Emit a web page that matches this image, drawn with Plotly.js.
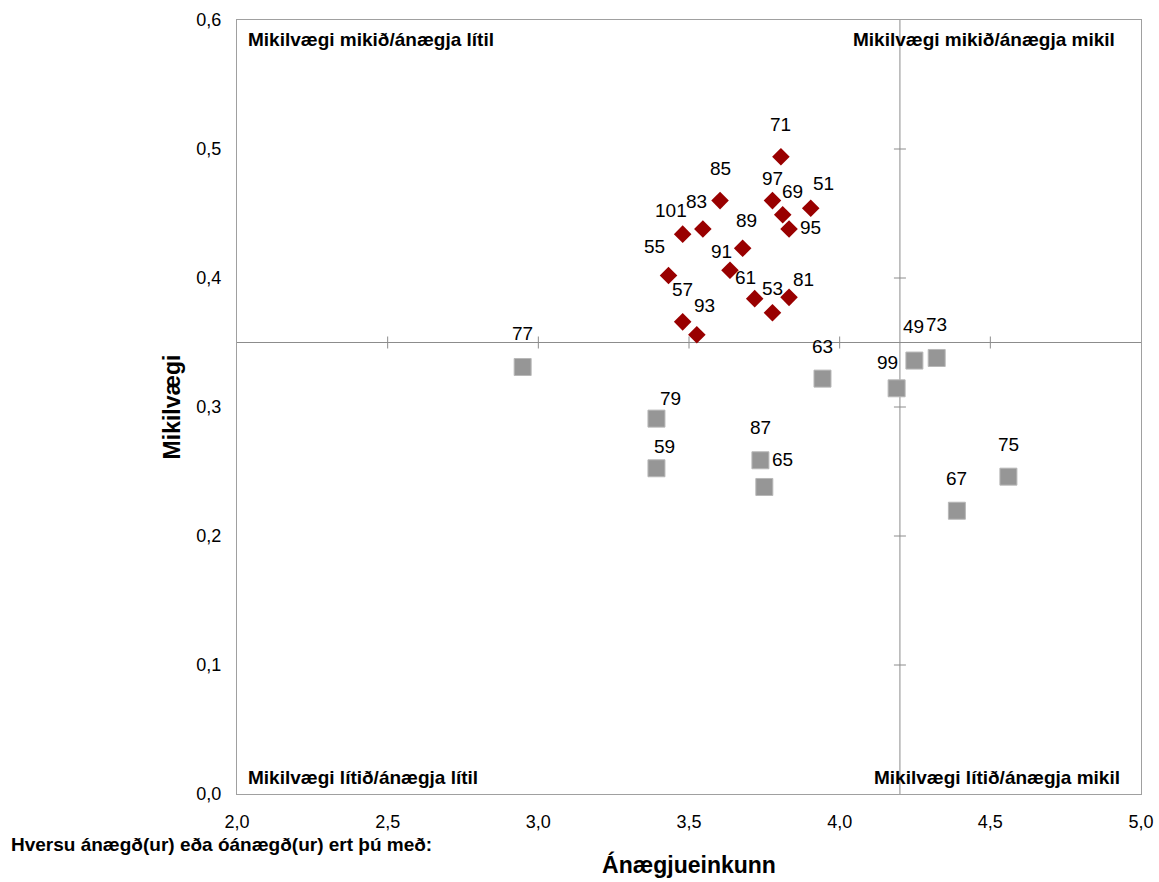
<!DOCTYPE html>
<html>
<head>
<meta charset="utf-8">
<script src="https://cdn.plot.ly/plotly-3.0.1.min.js"></script>
<style>
  html, body { margin: 0; padding: 0; background: #fff; }
  #chart { width: 1159px; height: 882px; }
</style>
</head>
<body>
<div id="chart"></div>
<script>
// ---- data ----
const redLabels = ['71','85','97','69','51','95','101','83','89','91','55','61','81','53','57','93'];
const redX = [3.805,3.603,3.777,3.811,3.904,3.832,3.479,3.546,3.678,3.636,3.432,3.718,3.832,3.777,3.479,3.526];
const redY = [0.494,0.460,0.460,0.449,0.454,0.438,0.434,0.438,0.423,0.406,0.402,0.384,0.385,0.373,0.366,0.356];

const grayLabels = ['77','79','59','87','65','63','49','73','99','67','75'];
const grayX = [2.948,3.392,3.392,3.737,3.750,3.943,4.248,4.322,4.189,4.389,4.560];
const grayY = [0.331,0.291,0.2525,0.2587,0.238,0.322,0.336,0.338,0.3145,0.2196,0.246];

const xTickVals = [2.0,2.5,3.0,3.5,4.0,4.5,5.0];
const yTickVals = [0.0,0.1,0.2,0.3,0.4,0.5,0.6];
const crossX = 4.2;   // satisfaction cross line
const crossY = 0.35;  // importance cross line

const quadrantTexts = ['Mikilvægi mikið/ánægja lítil','Mikilvægi mikið/ánægja mikil',
                       'Mikilvægi lítið/ánægja lítil','Mikilvægi lítið/ánægja mikil'];
const xTitle = 'Ánægjueinkunn';
const yTitle = 'Mikilvægi';
const footText = 'Hversu ánægð(ur) eða óánægð(ur) ert þú með:';

// ---- label offsets (pixels, style only) ----
const redDx = [0,0,0,10,13,21,-12,-6,4,-8,-14,-9,14,0,0,8];
const redDy = [-32,-32,-22,-23,-25,-1,-24,-27,-28,-19,-29,-21,-18,-24,-32,-29];
const grayDx = [0,14,8,0,18,0,-1,0,-9,0,0];
const grayDy = [-34,-20,-22,-33,-27,-32,-34,-33,-26,-32,-32];

const sans = '"Liberation Sans", Arial, sans-serif';
const labelFont = {family: sans, size: 19, color: '#000'};
const tickFont = {family: sans, size: 18, color: '#000'};
const boldFont = {family: sans, size: 19, color: '#000', weight: 'bold'};

const traces = [
  {
    type: 'scatter', mode: 'markers', x: grayX, y: grayY, text: grayLabels,
    marker: {symbol: 'square', size: 17, color: '#969696', line: {color: '#b8b8b8', width: 1}},
    hoverinfo: 'text', showlegend: false
  },
  {
    type: 'scatter', mode: 'markers', x: redX, y: redY, text: redLabels,
    marker: {symbol: 'diamond', size: 13.5, color: '#990000', line: {width: 0}},
    hoverinfo: 'text', showlegend: false
  }
];

const annotations = [];
redLabels.forEach((t, i) => annotations.push({
  x: redX[i], y: redY[i], xref: 'x', yref: 'y', text: t, showarrow: false,
  xshift: redDx[i], yshift: -redDy[i], font: labelFont
}));
grayLabels.forEach((t, i) => annotations.push({
  x: grayX[i], y: grayY[i], xref: 'x', yref: 'y', text: t, showarrow: false,
  xshift: grayDx[i], yshift: -grayDy[i], font: labelFont
}));
// quadrant texts
annotations.push({xref:'paper', yref:'paper', x:0, y:1, xanchor:'left', yanchor:'top', xshift:9, yshift:-7, text:quadrantTexts[0], showarrow:false, font:boldFont});
annotations.push({xref:'paper', yref:'paper', x:1, y:1, xanchor:'right', yanchor:'top', xshift:-24, yshift:-7, text:quadrantTexts[1], showarrow:false, font:boldFont});
annotations.push({xref:'paper', yref:'paper', x:0, y:0, xanchor:'left', yanchor:'bottom', xshift:9, yshift:4, text:quadrantTexts[2], showarrow:false, font:boldFont});
annotations.push({xref:'paper', yref:'paper', x:1, y:0, xanchor:'right', yanchor:'bottom', xshift:-19, yshift:4, text:quadrantTexts[3], showarrow:false, font:boldFont});
// footnote
annotations.push({xref:'paper', yref:'paper', x:0, y:0, xanchor:'left', yanchor:'middle', xshift:-228, yshift:-50, text:footText, showarrow:false,
  font:{family: sans, size: 19, color:'#000', weight:'bold'}});

const lineColor = '#8c8c8c';
const shapes = [
  {type:'line', xref:'paper', yref:'y', x0:0, x1:1, y0:crossY, y1:crossY, line:{color:lineColor, width:1}, layer:'below'},
  {type:'line', xref:'x', yref:'paper', x0:crossX, x1:crossX, y0:0, y1:1, line:{color:lineColor, width:1}, layer:'below'}
];
xTickVals.slice(1, -1).forEach(tx => shapes.push({
  type:'line', xref:'x', yref:'y', x0:tx, x1:tx, ysizemode:'pixel', yanchor:crossY, y0:-6, y1:6,
  line:{color:lineColor, width:1}, layer:'below'
}));
yTickVals.slice(1, -1).forEach(ty => shapes.push({
  type:'line', xref:'x', yref:'y', xsizemode:'pixel', xanchor:crossX, x0:-6, x1:6, y0:ty, y1:ty,
  line:{color:lineColor, width:1}, layer:'below'
}));

const layout = {
  width: 1159, height: 882,
  margin: {l: 237, r: 18, t: 20, b: 88, pad: 0},
  paper_bgcolor: '#fff', plot_bgcolor: '#fff',
  separators: ', ',
  showlegend: false,
  xaxis: {
    range: [2, 5], tickvals: xTickVals, tickformat: '.1f',
    showgrid: false, zeroline: false, showline: true, mirror: true,
    linecolor: '#a0a0a0', linewidth: 1, ticks: '', ticklabelstandoff: 11,
    tickfont: tickFont, fixedrange: true,
    title: {text: xTitle, standoff: 26, font: {family: sans, size: 23, color: '#000', weight: 'bold'}}
  },
  yaxis: {
    range: [0, 0.6], tickvals: yTickVals, tickformat: '.1f',
    showgrid: false, zeroline: false, showline: true, mirror: true,
    linecolor: '#a0a0a0', linewidth: 1, ticks: '', ticklabelstandoff: 11,
    tickfont: tickFont, fixedrange: true,
    title: {text: yTitle, standoff: 9, font: {family: sans, size: 23, color: '#000', weight: 'bold'}}
  },
  shapes: shapes,
  annotations: annotations
};

Plotly.newPlot('chart', traces, layout, {displayModeBar: false, staticPlot: true});
</script>
</body>
</html>
